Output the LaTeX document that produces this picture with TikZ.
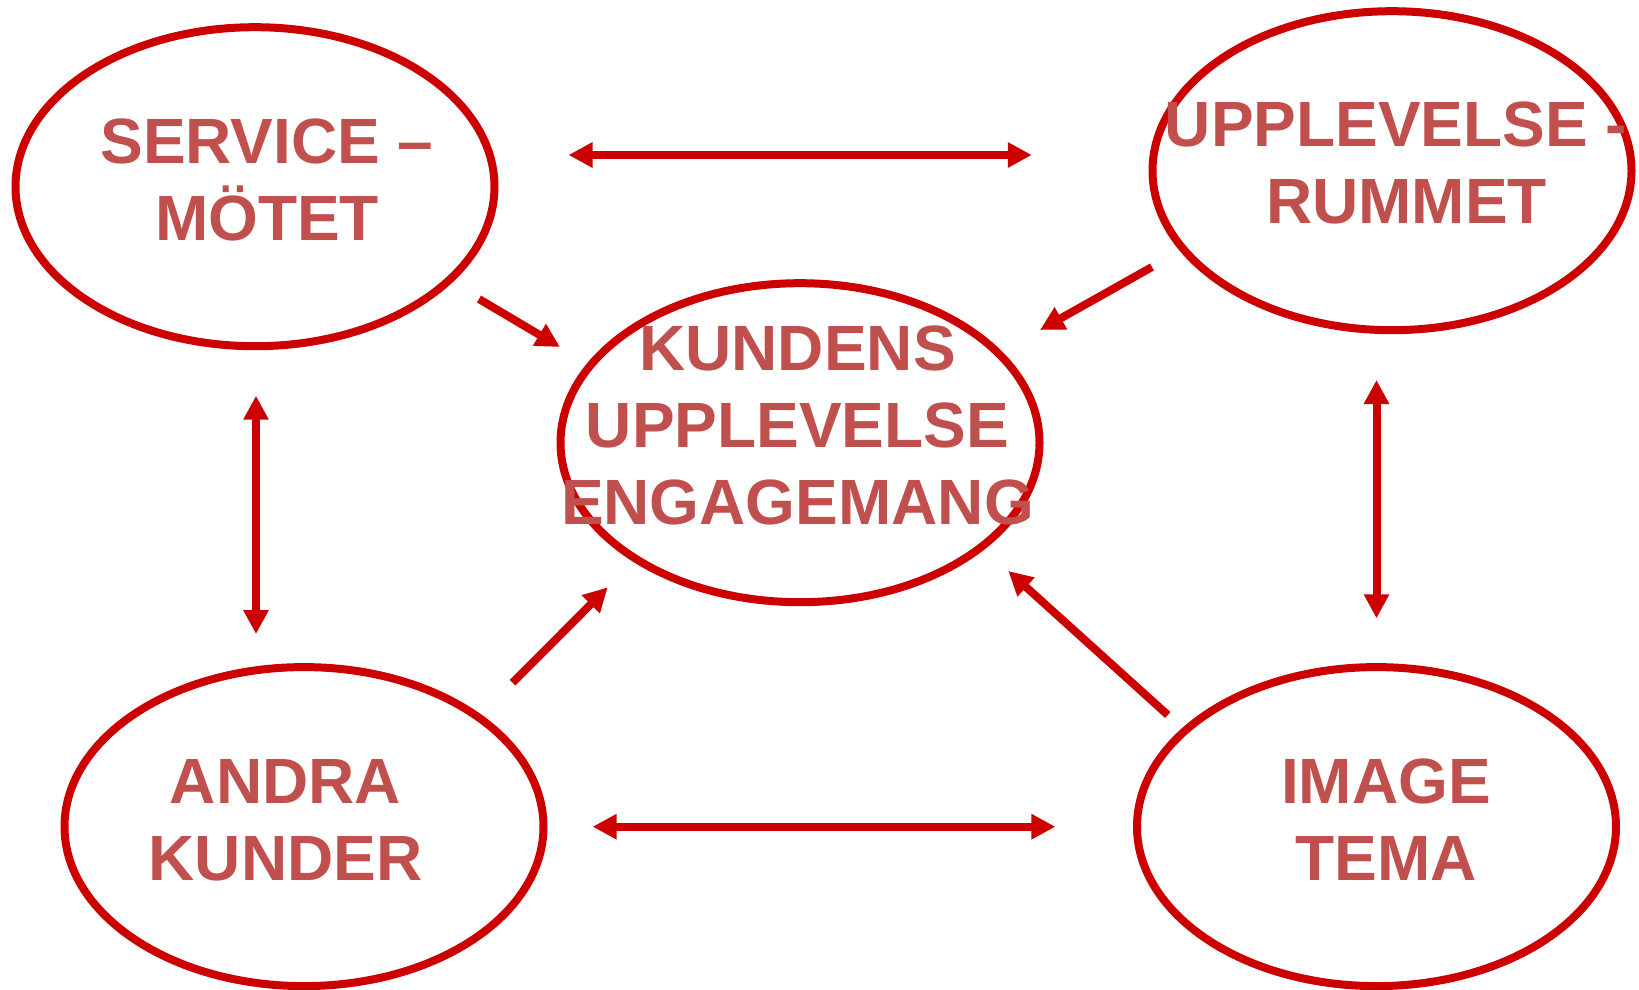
\documentclass[tikz,border=0pt]{standalone}
\usepackage{fontspec}
\setmainfont{Liberation Sans}
\usetikzlibrary{shapes.geometric,arrows.meta}
\definecolor{ringred}{RGB}{204,0,0}
\definecolor{labelred}{RGB}{192,80,77}
\begin{document}
\begin{tikzpicture}[x=1pt,y=-1pt,
  ring/.style={ellipse, draw=ringred, line width=8pt, minimum width=479pt,
    minimum height=319pt, inner sep=0pt, outer sep=0pt},
  caption/.style={anchor=base, inner sep=0pt, text=labelred,
    font=\fontsize{64}{77}\selectfont\bfseries},
  link/.style={draw=ringred, line width=8pt, -{Triangle[length=24pt,width=24pt]}},
  bilink/.style={draw=ringred, line width=8pt,
    {Triangle[length=24pt,width=24pt]}-{Triangle[length=24pt,width=24pt]}}]
\useasboundingbox (0,0) rectangle (1639,990);

% the five rings
\node[ring] (service) at (255,186.7) {};
\node[ring] (rummet)  at (1392,170.7) {};
\node[ring] (kund)    at (800,442.7) {};
\node[ring] (andra)   at (304,826.6) {};
\node[ring] (image)   at (1376.5,826.6) {};

% labels, one node per line, placed on their baselines
\node[caption] (serviceA) at (267,163.3) {SERVICE –};
\node[caption] (serviceB) at (267,240) {MÖTET};
\node[caption] (rummetA)  at (1396,146.7) {UPPLEVELSE -};
\node[caption] (rummetB)  at (1406.6,223.3) {RUMMET};
\node[caption] (kundA)    at (797.5,370.7) {KUNDENS};
\node[caption] (kundB)    at (797.5,447.5) {UPPLEVELSE};
\node[caption] (kundC)    at (797.5,524.3) {ENGAGEMANG};
\node[caption] (andraA)   at (285.5,803.3) {ANDRA};
\node[caption] (andraB)   at (285.5,880) {KUNDER};
\node[caption] (imageA)   at (1386,803.3) {IMAGE};
\node[caption] (imageB)   at (1386,880) {TEMA};

% connector end points
\coordinate (topL) at (568.5,155);
\coordinate (topR) at (1031.8,155);
\coordinate (botL) at (592.6,826.7);
\coordinate (botR) at (1055.4,826.7);
\coordinate (leftT) at (256,395.7);
\coordinate (leftB) at (256,634);
\coordinate (rightT) at (1376.5,380);
\coordinate (rightB) at (1376.5,618.3);
\coordinate (svcOut) at (479,299);
\coordinate (svcIn)  at (560,347);
\coordinate (rumOut) at (1152,267);
\coordinate (rumIn)  at (1040,330);
\coordinate (andOut) at (512.6,682.7);
\coordinate (andIn)  at (607.7,587.3);
\coordinate (imgOut) at (1167.8,715);
\coordinate (imgIn)  at (1008.3,571);

% connectors
\draw[bilink] (topL) -- (topR);
\draw[bilink] (botL) -- (botR);
\draw[bilink] (leftT) -- (leftB);
\draw[bilink] (rightT) -- (rightB);
\draw[link] (svcOut) -- (svcIn);
\draw[link] (rumOut) -- (rumIn);
\draw[link] (andOut) -- (andIn);
\draw[link] (imgOut) -- (imgIn);
\end{tikzpicture}
\end{document}
